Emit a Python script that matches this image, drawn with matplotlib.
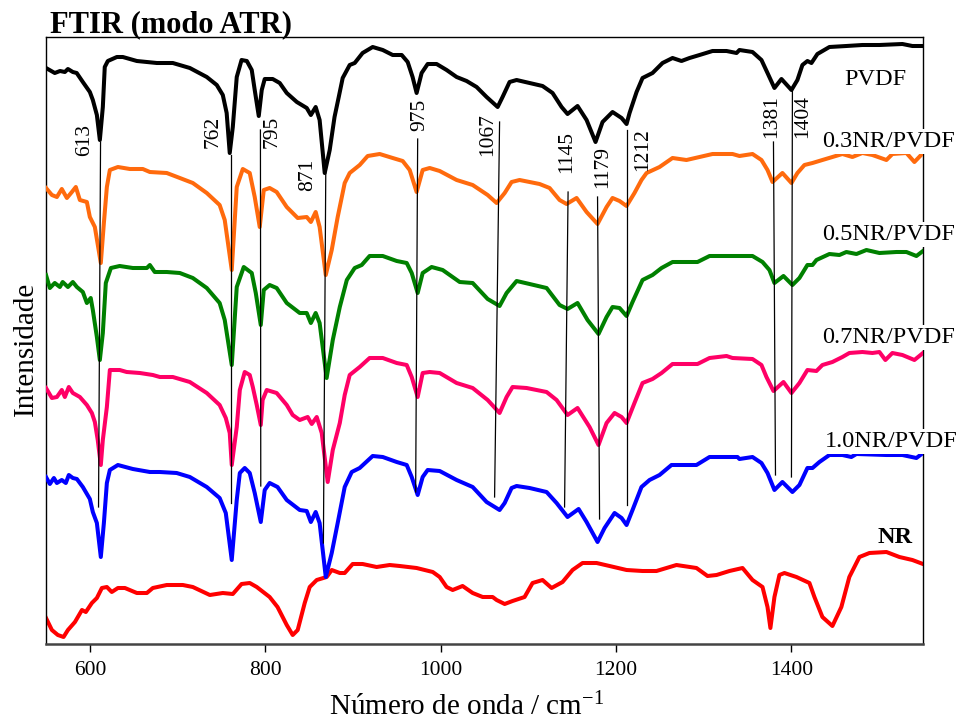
import matplotlib
matplotlib.use('Agg')
import matplotlib.pyplot as plt

plt.rcParams['font.family'] = ['Liberation Serif', 'DejaVu Serif']
plt.rcParams['mathtext.fontset'] = 'custom'
plt.rcParams['mathtext.rm'] = 'Liberation Serif'
plt.rcParams['mathtext.it'] = 'Liberation Serif:italic'

# ---------------- data (wavenumber / cm-1, intensity a.u. with offsets) ----------------
pvdf_x = [550, 554, 560, 566, 571.5, 575, 580.6, 585, 592, 600, 603.4, 608, 611.4, 614.8, 617, 620.5,
          630.8, 637.6, 653.6, 676.4, 694.6, 714, 733.3, 744.7, 751.6, 756, 759.5, 763, 767.5, 773,
          779, 784.6, 788, 792.6, 796, 799.4, 808.5, 816.5, 824.5, 836, 847.3, 852, 857.5, 862,
          867.8, 873.5, 879, 883.8, 888.3, 896.3, 902, 911, 922.5, 934, 945.3, 955.6, 962.4, 968,
          972.6, 978.3, 985.2, 995.4, 1006.8, 1018.2, 1029.6, 1041, 1052.4, 1065, 1070.6, 1078.6,
          1086.6, 1101.4, 1116.2, 1127.6, 1137.9, 1144.7, 1156.1, 1166.4, 1176.6, 1184.6, 1196,
          1206.3, 1212, 1215.4, 1223.4, 1230.2, 1241.6, 1253, 1264.4, 1274.6, 1283.8, 1295.2, 1310,
          1326, 1337.4, 1340.7, 1355.6, 1365.8, 1372.7, 1380.6, 1388.6, 1400, 1406.8, 1412.5,
          1418.2, 1422.8, 1429.6, 1443.3, 1462.6, 1480.9, 1500.3, 1526.5, 1537.9, 1550]
pvdf_y = [576, 574, 571, 573, 572, 575, 572, 571, 562, 552, 544, 529, 504, 537, 577, 583,
          587, 587, 583, 581, 581, 576, 567, 559, 549, 531, 491, 517, 567, 584,
          583, 574, 554, 528, 554, 565, 565, 561, 551, 542, 536, 529, 537, 524,
          471, 494, 527, 547, 566, 579, 581, 591, 597, 594, 589, 589, 582, 567,
          551, 571, 580, 580, 574, 567, 563, 557, 547, 537, 547, 562,
          564, 561, 558, 551, 537, 530, 538, 524, 502, 522, 532,
          526, 520, 531, 552, 566, 571, 581, 586, 583, 586, 589, 593,
          593, 591, 594, 592, 584, 571, 556, 565, 554, 564, 579,
          583, 581, 590, 597, 598, 599, 599, 600, 598, 598]

nr03_x = [550, 556.7, 562.4, 568, 573.8, 579.5, 584, 588.6, 596.6, 600, 605.7, 612.5, 616, 619.4, 622.8,
          632, 645.6, 660.4, 668.4, 687.7, 702.6, 717.4, 733.3, 748, 753.8, 761.8, 767.5, 774.4,
          782.3, 788, 793.7, 798.3, 805, 813, 824.5, 837, 847.3, 852, 857.5, 862, 869, 875.8,
          882.6, 890.6, 896.3, 907.7, 916.8, 930.5, 945.3, 956.7, 964.7, 972.6, 979.5, 987.5,
          998.9, 1018.2, 1036.5, 1053.6, 1063.8, 1073, 1080.9, 1090, 1112.8, 1124.2, 1135.6,
          1143.6, 1155, 1166.4, 1178.9, 1189.2, 1196, 1204, 1212, 1221, 1229, 1234.8, 1249.6,
          1264.4, 1280.3, 1295.2, 1310, 1332.8, 1340.7, 1355.6, 1365.8, 1372.7, 1378.4, 1389.7,
          1400, 1406.8, 1414.8, 1424, 1435.3, 1446.7, 1458.1, 1469.5, 1480.9, 1492.3, 1508.3,
          1515.1, 1531.1, 1540.2, 1550]
nr03_y = [456, 449, 447, 455, 446, 452, 457, 444, 442, 427, 417, 381, 421, 457, 474,
          477, 475, 475, 472, 471, 466, 461, 451, 439, 424, 374, 457, 475,
          471, 447, 417, 454, 456, 452, 437, 426, 427, 422, 432, 417, 369, 394,
          427, 461, 471, 479, 488, 490, 486, 483, 474, 452, 474, 476,
          473, 464, 459, 449, 441, 451, 462, 464, 460, 456, 444,
          440, 446, 432, 420, 437, 446, 443, 438, 451, 464, 471, 477,
          486, 484, 487, 490, 490, 488, 490, 484, 474, 462, 471,
          461, 471, 479, 481, 484, 487, 490, 487, 491, 489, 484,
          490, 491, 482, 491]

nr05_x = [550, 554.4, 560, 565.8, 569, 575, 580.6, 585.2, 592, 596.6, 601, 603.4, 608, 611.4, 614.8,
          618.2, 624, 634, 649, 665, 668.4, 674, 687.7, 702.6, 717.4, 733.3, 748, 753.8, 761.8,
          767.5, 775.5, 784.6, 789.2, 794.9, 798.3, 805, 813, 824.5, 839.3, 847.3, 852, 857.5,
          862, 870, 877, 885, 893, 902, 910, 919, 934, 949.9, 961.3, 967, 973.8, 979.5, 989.7,
          1002.3, 1021.7, 1036.5, 1053.6, 1067.2, 1075.2, 1086.6, 1101.4, 1120.8, 1135.6, 1144.7,
          1156.1, 1167.5, 1180, 1189.2, 1196, 1204, 1212, 1218.8, 1230.2, 1241.6, 1251.9, 1264.4,
          1292.9, 1306.6, 1355.6, 1367, 1374.9, 1380.6, 1390.9, 1401.1, 1409.1, 1418.2, 1424,
          1428.5, 1443.3, 1454.7, 1462.6, 1474.1, 1485.5, 1500.3, 1519.7, 1531.1, 1542.5, 1550]
nr05_y = [369, 356, 361, 357, 362, 357, 362, 357, 352, 341, 346, 334, 307, 284, 311,
          361, 376, 378, 376, 376, 379, 372, 372, 371, 366, 356, 341, 324, 279,
          357, 377, 371, 351, 319, 354, 359, 356, 341, 331, 331, 321, 331,
          321, 266, 304, 337, 364, 376, 379, 388, 388, 383, 381, 371, 351, 371, 377,
          374, 362, 361, 345, 338, 351, 363, 360, 356, 339, 335,
          341, 324, 310, 327, 337, 336, 328, 342, 364, 369, 376, 382,
          382, 388, 388, 382, 374, 361, 368, 359, 366, 379, 379,
          384, 390, 389, 392, 390, 394, 391, 392, 392, 388, 393]

nr07_x = [550, 556.7, 562.4, 568, 571.5, 576, 580.6, 588.6, 596.6, 602.3, 605.7, 609, 612.5, 614.8,
          619.4, 622.8, 634, 642, 657, 671.8, 679.8, 694.6, 714, 733.3, 748, 755, 759.5, 761.8,
          767.5, 771, 776.6, 782.3, 785.8, 790.3, 794.9, 797, 801.7, 813, 824.5, 831.3, 839.3,
          848.4, 853, 858.7, 864.4, 871.2, 877, 885, 890.6, 896.3, 907.7, 919, 934, 949.9, 961.3,
          967, 973.8, 979.5, 987.5, 998.9, 1018.2, 1036.5, 1053.6, 1067.2, 1075.2, 1082, 1098,
          1120.8, 1132.2, 1144.7, 1156.1, 1169.8, 1180, 1189.2, 1198.3, 1206.3, 1212, 1221,
          1230.2, 1241.6, 1251.9, 1264.4, 1292.9, 1306.6, 1326, 1332.8, 1355.6, 1365.8, 1371.5,
          1379.5, 1390.9, 1400, 1409.1, 1418.2, 1428.5, 1435.3, 1446.7, 1458.1, 1466, 1480.9,
          1492.3, 1500.3, 1507.1, 1515.1, 1526.5, 1540.2, 1550]
nr07_y = [256, 246, 247, 254, 247, 257, 251, 247, 239, 231, 222, 204, 179, 204,
          237, 274, 274, 272, 271, 269, 267, 267, 262, 251, 239, 226, 211, 179,
          217, 254, 272, 269, 257, 239, 219, 244, 254, 251, 239, 229, 224,
          227, 220, 227, 211, 162, 194, 221, 249, 269, 277, 286, 286, 281, 279,
          267, 247, 271, 272, 271, 261, 256, 244, 231, 247, 257, 256,
          252, 244, 229, 236, 217, 199, 221, 231, 227, 221, 241,
          261, 265, 271, 280, 280, 286, 288, 286, 285, 279, 267,
          253, 262, 251, 261, 274, 273, 279, 282, 287, 291, 292,
          291, 292, 284, 291, 289, 284, 291]

nr10_x = [550, 554.4, 559, 562.4, 568, 572.6, 576, 580.6, 585.2, 592, 600, 603.4, 608, 612.5, 616,
          619.4, 622.8, 632, 649, 668.4, 679.8, 699, 714, 733.3, 748, 755, 761.8, 767.5, 771,
          776.6, 782.3, 788, 794.9, 799.4, 805, 814, 824.5, 839.3, 847.3, 852, 857.5, 862, 869,
          875.8, 882.6, 890.6, 898.6, 907.7, 922.5, 934, 949.9, 961.3, 967, 973.8, 979.5, 985.2,
          998.9, 1018.2, 1036.5, 1052.4, 1067.2, 1073, 1080.9, 1086.6, 1101.4, 1120.8, 1132.2,
          1144.7, 1157.3, 1166.4, 1178.9, 1186.9, 1198.3, 1206.3, 1212, 1218.8, 1229, 1238.2,
          1249.6, 1263.2, 1291.7, 1306.6, 1338.5, 1340.7, 1355.6, 1365.8, 1372.7, 1380.6, 1389.7,
          1401.1, 1409.1, 1418.2, 1424, 1431.9, 1443.3, 1458.1, 1468.3, 1474.1, 1508.3, 1526.5,
          1542.5, 1550]
nr10_y = [167, 160, 166, 161, 164, 161, 169, 166, 165, 157, 145, 132, 121, 87, 121,
          161, 174, 179, 175, 172, 172, 171, 167, 157, 146, 131, 84, 144, 171,
          176, 171, 151, 122, 154, 161, 157, 144, 134, 133, 122, 132, 121, 67,
          91, 121, 157, 172, 176, 188, 187, 182, 179, 167, 149, 167, 174,
          173, 164, 157, 142, 134, 141, 156, 158, 156, 152, 141,
          127, 135, 122, 102, 116, 131, 126, 119, 134, 157, 164,
          169, 179, 179, 187, 187, 185, 187, 181, 171, 154, 162,
          152, 159, 176, 176, 182, 189, 189, 187, 190, 189, 189,
          186, 191]

nr_x = [550, 556.7, 563.5, 570, 575, 583, 591, 595.4, 602.3, 608, 613.7, 619.4, 625, 632, 640, 653.6,
        665, 671.8, 687.7, 706, 717.4, 736.8, 751.6, 763, 773, 782.3, 790.3, 805, 814, 824.5, 831.3,
        837, 845, 850.7, 858.7, 870, 875.8, 885, 890.6, 899.7, 911, 927, 941.9, 953.3, 972.6, 991,
        998.9, 1006.8, 1013.7, 1025, 1036.5, 1047.9, 1059.3, 1063.8, 1073, 1082, 1095.7, 1104.8,
        1116.2, 1126.5, 1139, 1150.4, 1161.8, 1177.8, 1192.6, 1212, 1230.2, 1246.1, 1257.5,
        1268.9, 1291.7, 1304.3, 1314.6, 1329.3, 1344.2, 1355.6, 1367, 1372.7, 1376, 1380.6,
        1386.3, 1392, 1405.7, 1420.5, 1426.2, 1435.3, 1446.7, 1456.9, 1466, 1477.5, 1488.9,
        1508.3, 1523.1, 1537.9, 1550]
nr_y = [26, 14, 9, 7, 14, 22, 34, 32, 41, 46, 56, 57, 52, 56, 56, 51,
        51, 56, 59, 59, 57, 49, 51, 50, 60, 61, 57, 47, 37, 19, 9,
        14, 41, 57, 64, 67, 74, 71, 71, 80, 80, 77, 79, 78, 76, 72,
        67, 57, 54, 58, 51, 47, 47, 44, 40, 43, 47, 61,
        64, 56, 62, 74, 81, 81, 78, 74, 73, 73, 76,
        79, 76, 68, 69, 73, 76, 64, 57, 37, 16, 47,
        69, 71, 67, 61, 47, 27, 18, 37, 67, 87, 91,
        92, 87, 84, 80]

series_names = ['PVDF', '0.3NR/PVDF', '0.5NR/PVDF', '0.7NR/PVDF', '1.0NR/PVDF', 'NR']
series_colors = ['#000000', '#FF6A0D', '#008000', '#FF0066', '#0000FF', '#FF0000']

# peak markers
peak_labels = ['613', '762', '795', '871', '975', '1067', '1145', '1179', '1212', '1381', '1404']
peak_line_x_top = [612.2, 760.7, 794.5, 869.0, 973.8, 1067.2, 1145.3, 1178.9, 1212.0, 1379.5, 1401.1]
peak_line_y_top = [502, 489, 514, 471, 505, 522, 452, 447, 514, 502, 553]
peak_line_x_bot = [609.9, 760.7, 794.9, 866.3, 971.5, 1061.5, 1141.3, 1181.2, 1212.0, 1381.8, 1400.0]
peak_line_y_bot = [137, 141, 158, 101, 152, 147, 137, 125, 139, 169, 167]
peak_text_x = [594.3, 740.2, 807.4, 848.4, 976.1, 1053.6, 1143.6, 1184.6, 1230.2, 1377.2, 1413.1]
peak_text_y = [504, 512, 512, 469, 529, 509, 492, 477, 494, 527, 527]

label_x = [1460, 1435.3, 1435.3, 1435.3, 1437.6, 1498]
label_y = [559, 497, 404, 301, 197, 101]

# ---------------- figure ----------------
fig = plt.figure(figsize=(9.61, 7.22), dpi=100)
ax = fig.add_axes([46 / 961, 78 / 722, 877 / 961, 607 / 722])

xs = [pvdf_x, nr03_x, nr05_x, nr07_x, nr10_x, nr_x]
ys = [pvdf_y, nr03_y, nr05_y, nr07_y, nr10_y, nr_y]
zorders = [3, 3, 3, 3, 3, 2]
for x, y, c, z in zip(xs, ys, series_colors, zorders):
    ax.plot(x, y, color=c, lw=2.9, zorder=z, solid_joinstyle='round')

for xt, yt, xb, yb in zip(peak_line_x_top, peak_line_y_top, peak_line_x_bot, peak_line_y_bot):
    ax.plot([xt, xb], [yt, yb], color='black', lw=0.9, zorder=4)

for lab, tx, ty in zip(peak_labels, peak_text_x, peak_text_y):
    ax.text(tx, ty, lab, rotation=90, ha='center', va='center', fontsize=15.5, zorder=5)

for i, (name, lx, ly) in enumerate(zip(series_names, label_x, label_y)):
    ax.text(lx, ly, name, ha='left', va='baseline', fontsize=17.5,
            fontweight='bold' if name == 'NR' else 'normal', clip_on=False, zorder=6,
            bbox=dict(facecolor='white', edgecolor='none', pad=1.5) if i in (1, 2, 3, 4) else None)

ax.set_xlim(550, 1550)
ax.set_ylim(0, 607)
ax.set_xticks([600, 800, 1000, 1200, 1400])
ax.set_yticks([])
ax.tick_params(axis='x', direction='out', length=6, width=1, pad=6, labelsize=15.5, top=False)

for s in ['left', 'top', 'right']:
    ax.spines[s].set_linewidth(1.0)
    ax.spines[s].set_color('black')
ax.spines['bottom'].set_linewidth(1.8)
ax.spines['bottom'].set_color('#444444')

ax.set_xlabel(r'Número de onda / cm$^{-1}$', fontsize=21, va='baseline')
ax.xaxis.set_label_coords(0.48, -0.117)
ax.set_ylabel('Intensidade', fontsize=21, va='baseline')
ax.yaxis.set_label_coords(-0.0148, 0.486)

fig.text(50 / 961, (722 - 32) / 722, 'FTIR (modo ATR)', fontsize=22, fontweight='bold',
         ha='left', va='baseline')

fig.savefig('out.png', dpi=100)
